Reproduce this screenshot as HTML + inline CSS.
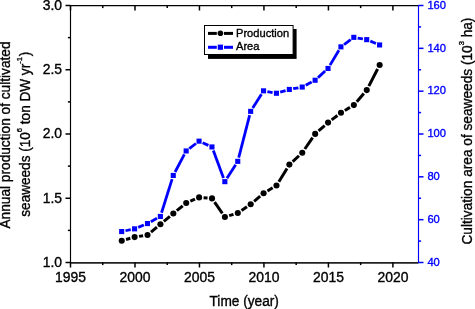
<!DOCTYPE html><html><head><meta charset="utf-8"><style>html,body{margin:0;padding:0;background:#fff;}svg{display:block;will-change:transform;}</style></head><body><svg width="475" height="309" viewBox="0 0 475 309">
<rect width="475" height="309" fill="#fff"/>
<g stroke="#000" stroke-width="1.15" fill="none">
<line x1="70.0" y1="5.6" x2="418.5" y2="5.6" stroke-width="1.35"/>
<line x1="70.0" y1="262.9" x2="418.5" y2="262.9" stroke-width="1.6" stroke="#222"/>
<line x1="70.5" y1="5.0" x2="70.5" y2="263.0"/>
<line x1="65.5" y1="262.50" x2="70.5" y2="262.50" stroke-width="1.5"/>
<line x1="67.9" y1="230.38" x2="70.5" y2="230.38" stroke-width="1.5"/>
<line x1="65.5" y1="198.25" x2="70.5" y2="198.25" stroke-width="1.5"/>
<line x1="67.9" y1="166.12" x2="70.5" y2="166.12" stroke-width="1.5"/>
<line x1="65.5" y1="134.00" x2="70.5" y2="134.00" stroke-width="1.5"/>
<line x1="67.9" y1="101.88" x2="70.5" y2="101.88" stroke-width="1.5"/>
<line x1="65.5" y1="69.75" x2="70.5" y2="69.75" stroke-width="1.5"/>
<line x1="67.9" y1="37.62" x2="70.5" y2="37.62" stroke-width="1.5"/>
<line x1="65.5" y1="5.50" x2="70.5" y2="5.50" stroke-width="1.5"/>
<line x1="70.50" y1="262.5" x2="70.50" y2="267.5" stroke-width="1.5"/>
<line x1="70.50" y1="5.5" x2="70.50" y2="10.5" stroke-width="1.5"/>
<line x1="102.74" y1="262.5" x2="102.74" y2="265.1" stroke-width="1.5"/>
<line x1="102.74" y1="5.5" x2="102.74" y2="8.1" stroke-width="1.5"/>
<line x1="134.98" y1="262.5" x2="134.98" y2="267.5" stroke-width="1.5"/>
<line x1="134.98" y1="5.5" x2="134.98" y2="10.5" stroke-width="1.5"/>
<line x1="167.22" y1="262.5" x2="167.22" y2="265.1" stroke-width="1.5"/>
<line x1="167.22" y1="5.5" x2="167.22" y2="8.1" stroke-width="1.5"/>
<line x1="199.46" y1="262.5" x2="199.46" y2="267.5" stroke-width="1.5"/>
<line x1="199.46" y1="5.5" x2="199.46" y2="10.5" stroke-width="1.5"/>
<line x1="231.70" y1="262.5" x2="231.70" y2="265.1" stroke-width="1.5"/>
<line x1="231.70" y1="5.5" x2="231.70" y2="8.1" stroke-width="1.5"/>
<line x1="263.94" y1="262.5" x2="263.94" y2="267.5" stroke-width="1.5"/>
<line x1="263.94" y1="5.5" x2="263.94" y2="10.5" stroke-width="1.5"/>
<line x1="296.18" y1="262.5" x2="296.18" y2="265.1" stroke-width="1.5"/>
<line x1="296.18" y1="5.5" x2="296.18" y2="8.1" stroke-width="1.5"/>
<line x1="328.42" y1="262.5" x2="328.42" y2="267.5" stroke-width="1.5"/>
<line x1="328.42" y1="5.5" x2="328.42" y2="10.5" stroke-width="1.5"/>
<line x1="360.66" y1="262.5" x2="360.66" y2="265.1" stroke-width="1.5"/>
<line x1="360.66" y1="5.5" x2="360.66" y2="8.1" stroke-width="1.5"/>
<line x1="392.90" y1="262.5" x2="392.90" y2="267.5" stroke-width="1.5"/>
<line x1="392.90" y1="5.5" x2="392.90" y2="10.5" stroke-width="1.5"/>
</g>
<g stroke="#00f" stroke-width="1.15" fill="none">
<line x1="418.5" y1="5.0" x2="418.5" y2="263.0"/>
<line x1="418.5" y1="262.50" x2="423.5" y2="262.50" stroke-width="1.5"/>
<line x1="418.5" y1="241.08" x2="421.1" y2="241.08" stroke-width="1.5"/>
<line x1="418.5" y1="219.67" x2="423.5" y2="219.67" stroke-width="1.5"/>
<line x1="418.5" y1="198.25" x2="421.1" y2="198.25" stroke-width="1.5"/>
<line x1="418.5" y1="176.83" x2="423.5" y2="176.83" stroke-width="1.5"/>
<line x1="418.5" y1="155.42" x2="421.1" y2="155.42" stroke-width="1.5"/>
<line x1="418.5" y1="134.00" x2="423.5" y2="134.00" stroke-width="1.5"/>
<line x1="418.5" y1="112.58" x2="421.1" y2="112.58" stroke-width="1.5"/>
<line x1="418.5" y1="91.17" x2="423.5" y2="91.17" stroke-width="1.5"/>
<line x1="418.5" y1="69.75" x2="421.1" y2="69.75" stroke-width="1.5"/>
<line x1="418.5" y1="48.33" x2="423.5" y2="48.33" stroke-width="1.5"/>
<line x1="418.5" y1="26.92" x2="421.1" y2="26.92" stroke-width="1.5"/>
<line x1="418.5" y1="5.50" x2="423.5" y2="5.50" stroke-width="1.5"/>
</g>
<text transform="translate(62.00,266.95) scale(0.985,1)" font-family="Liberation Sans, sans-serif" font-size="14.15" text-anchor="end" fill="#000" stroke="#000" stroke-width="0.35" word-spacing="0">1.0</text>
<text transform="translate(62.00,202.70) scale(0.985,1)" font-family="Liberation Sans, sans-serif" font-size="14.15" text-anchor="end" fill="#000" stroke="#000" stroke-width="0.35" word-spacing="0">1.5</text>
<text transform="translate(62.00,138.45) scale(0.985,1)" font-family="Liberation Sans, sans-serif" font-size="14.15" text-anchor="end" fill="#000" stroke="#000" stroke-width="0.35" word-spacing="0">2.0</text>
<text transform="translate(62.00,74.20) scale(0.985,1)" font-family="Liberation Sans, sans-serif" font-size="14.15" text-anchor="end" fill="#000" stroke="#000" stroke-width="0.35" word-spacing="0">2.5</text>
<text transform="translate(62.00,9.95) scale(0.985,1)" font-family="Liberation Sans, sans-serif" font-size="14.15" text-anchor="end" fill="#000" stroke="#000" stroke-width="0.35" word-spacing="0">3.0</text>
<text transform="translate(427.40,265.80) scale(0.965,1)" font-family="Liberation Sans, sans-serif" font-size="11.6" text-anchor="start" fill="#00f" stroke="#00f" stroke-width="0.35" word-spacing="0">40</text>
<text transform="translate(427.40,222.97) scale(0.965,1)" font-family="Liberation Sans, sans-serif" font-size="11.6" text-anchor="start" fill="#00f" stroke="#00f" stroke-width="0.35" word-spacing="0">60</text>
<text transform="translate(427.40,180.13) scale(0.965,1)" font-family="Liberation Sans, sans-serif" font-size="11.6" text-anchor="start" fill="#00f" stroke="#00f" stroke-width="0.35" word-spacing="0">80</text>
<text transform="translate(427.40,137.30) scale(0.965,1)" font-family="Liberation Sans, sans-serif" font-size="11.6" text-anchor="start" fill="#00f" stroke="#00f" stroke-width="0.35" word-spacing="0">100</text>
<text transform="translate(427.40,94.47) scale(0.965,1)" font-family="Liberation Sans, sans-serif" font-size="11.6" text-anchor="start" fill="#00f" stroke="#00f" stroke-width="0.35" word-spacing="0">120</text>
<text transform="translate(427.40,51.63) scale(0.965,1)" font-family="Liberation Sans, sans-serif" font-size="11.6" text-anchor="start" fill="#00f" stroke="#00f" stroke-width="0.35" word-spacing="0">140</text>
<text transform="translate(427.40,8.80) scale(0.965,1)" font-family="Liberation Sans, sans-serif" font-size="11.6" text-anchor="start" fill="#00f" stroke="#00f" stroke-width="0.35" word-spacing="0">160</text>
<text transform="translate(70.60,282.30) scale(0.985,1)" font-family="Liberation Sans, sans-serif" font-size="14.15" text-anchor="middle" fill="#000" stroke="#000" stroke-width="0.35" word-spacing="0">1995</text>
<text transform="translate(135.08,282.30) scale(0.985,1)" font-family="Liberation Sans, sans-serif" font-size="14.15" text-anchor="middle" fill="#000" stroke="#000" stroke-width="0.35" word-spacing="0">2000</text>
<text transform="translate(199.56,282.30) scale(0.985,1)" font-family="Liberation Sans, sans-serif" font-size="14.15" text-anchor="middle" fill="#000" stroke="#000" stroke-width="0.35" word-spacing="0">2005</text>
<text transform="translate(264.04,282.30) scale(0.985,1)" font-family="Liberation Sans, sans-serif" font-size="14.15" text-anchor="middle" fill="#000" stroke="#000" stroke-width="0.35" word-spacing="0">2010</text>
<text transform="translate(328.52,282.30) scale(0.985,1)" font-family="Liberation Sans, sans-serif" font-size="14.15" text-anchor="middle" fill="#000" stroke="#000" stroke-width="0.35" word-spacing="0">2015</text>
<text transform="translate(393.00,282.30) scale(0.985,1)" font-family="Liberation Sans, sans-serif" font-size="14.15" text-anchor="middle" fill="#000" stroke="#000" stroke-width="0.35" word-spacing="0">2020</text>
<text transform="translate(244.20,305.60) scale(0.968,1)" font-family="Liberation Sans, sans-serif" font-size="14.15" text-anchor="middle" fill="#000" stroke="#000" stroke-width="0.35" word-spacing="0">Time (year)</text>
<text transform="translate(10.30,135.00) rotate(-90) scale(0.968,1)" font-family="Liberation Sans, sans-serif" font-size="14.15" text-anchor="middle" fill="#000" stroke="#000" stroke-width="0.35" word-spacing="0">Annual production of cultivated</text>
<text transform="translate(29.50,216.70) rotate(-90) scale(0.961,1)" font-family="Liberation Sans, sans-serif" font-size="14.15" text-anchor="start" fill="#000" stroke="#000" stroke-width="0.35" word-spacing="0">seaweeds (10<tspan font-size="7.8" dy="-7.9">6</tspan><tspan dy="7.9"> ton DW yr</tspan><tspan font-size="7.8" dy="-7.9">-1</tspan><tspan dy="7.9" dx="1.0">)</tspan></text>
<text transform="translate(471.80,131.05) rotate(-90) scale(0.968,1)" font-family="Liberation Sans, sans-serif" font-size="14.15" text-anchor="middle" fill="#000" stroke="#000" stroke-width="0.35" word-spacing="0">Cultivation area of seaweeds (10<tspan font-size="7.8" dy="-7.9">3</tspan><tspan dy="7.9"> ha)</tspan></text>
<g stroke="#000" stroke-width="3.0" stroke-linecap="butt"><line x1="126.07" y1="239.49" x2="130.30" y2="238.31"/><line x1="139.07" y1="236.38" x2="143.08" y2="235.72"/><line x1="150.99" y1="232.13" x2="156.96" y2="227.17"/><line x1="163.87" y1="221.41" x2="169.87" y2="216.39"/><line x1="176.81" y1="210.66" x2="182.72" y2="205.84"/><line x1="190.34" y1="201.21" x2="194.98" y2="199.19"/><line x1="203.60" y1="197.75" x2="207.52" y2="198.05"/><line x1="214.57" y1="202.10" x2="222.34" y2="213.30"/><line x1="229.20" y1="215.67" x2="233.50" y2="214.33"/><line x1="241.53" y1="210.48" x2="246.96" y2="206.82"/><line x1="254.12" y1="201.38" x2="260.17" y2="196.22"/><line x1="267.44" y1="190.97" x2="272.64" y2="187.83"/><line x1="278.85" y1="181.67" x2="287.02" y2="168.43"/><line x1="292.69" y1="161.55" x2="298.97" y2="155.75"/><line x1="304.82" y1="148.99" x2="312.63" y2="137.61"/><line x1="318.56" y1="130.93" x2="324.69" y2="125.57"/><line x1="331.64" y1="119.86" x2="337.40" y2="115.44"/><line x1="344.84" y1="110.42" x2="349.99" y2="107.38"/><line x1="356.80" y1="101.69" x2="363.82" y2="93.51"/><line x1="368.81" y1="86.10" x2="377.60" y2="69.00"/></g>
<g stroke="#00f" stroke-width="2.8" stroke-linecap="butt"><line x1="125.50" y1="230.75" x2="130.76" y2="229.65"/><line x1="138.19" y1="227.37" x2="143.87" y2="225.03"/><line x1="150.89" y1="221.67" x2="156.96" y2="218.33"/><line x1="161.54" y1="212.73" x2="172.10" y2="179.17"/><line x1="175.08" y1="172.00" x2="184.35" y2="154.40"/><line x1="189.27" y1="148.59" x2="195.95" y2="143.51"/><line x1="202.62" y1="142.75" x2="208.40" y2="145.35"/><line x1="213.31" y1="150.61" x2="223.49" y2="177.99"/><line x1="226.94" y1="178.36" x2="235.66" y2="164.64"/><line x1="238.72" y1="157.57" x2="249.67" y2="115.13"/><line x1="252.72" y1="108.05" x2="261.46" y2="94.15"/><line x1="267.37" y1="91.56" x2="272.60" y2="92.54"/><line x1="280.18" y1="92.15" x2="285.59" y2="90.55"/><line x1="293.17" y1="88.74" x2="298.39" y2="87.76"/><line x1="305.68" y1="85.23" x2="311.67" y2="82.07"/><line x1="318.00" y1="77.62" x2="325.14" y2="71.08"/><line x1="330.02" y1="65.10" x2="338.92" y2="50.20"/><line x1="344.06" y1="44.54" x2="350.67" y2="39.66"/><line x1="357.65" y1="38.03" x2="362.87" y2="38.97"/><line x1="370.32" y1="41.13" x2="376.00" y2="43.47"/></g>
<g fill="#000"><circle cx="121.73" cy="240.70" r="3.05"/><circle cx="134.63" cy="237.10" r="3.05"/><circle cx="147.53" cy="235.00" r="3.05"/><circle cx="160.42" cy="224.30" r="3.05"/><circle cx="173.32" cy="213.50" r="3.05"/><circle cx="186.21" cy="203.00" r="3.05"/><circle cx="199.11" cy="197.40" r="3.05"/><circle cx="212.01" cy="198.40" r="3.05"/><circle cx="224.90" cy="217.00" r="3.05"/><circle cx="237.80" cy="213.00" r="3.05"/><circle cx="250.69" cy="204.30" r="3.05"/><circle cx="263.59" cy="193.30" r="3.05"/><circle cx="276.49" cy="185.50" r="3.05"/><circle cx="289.38" cy="164.60" r="3.05"/><circle cx="302.28" cy="152.70" r="3.05"/><circle cx="315.17" cy="133.90" r="3.05"/><circle cx="328.07" cy="122.60" r="3.05"/><circle cx="340.97" cy="112.70" r="3.05"/><circle cx="353.86" cy="105.10" r="3.05"/><circle cx="366.76" cy="90.10" r="3.05"/><circle cx="379.65" cy="65.00" r="3.05"/></g>
<g fill="#00f"><rect x="119.13" y="229.00" width="5.1" height="5.1"/><rect x="132.03" y="226.30" width="5.1" height="5.1"/><rect x="144.93" y="221.00" width="5.1" height="5.1"/><rect x="157.82" y="213.90" width="5.1" height="5.1"/><rect x="170.72" y="172.90" width="5.1" height="5.1"/><rect x="183.61" y="148.40" width="5.1" height="5.1"/><rect x="196.51" y="138.60" width="5.1" height="5.1"/><rect x="209.41" y="144.40" width="5.1" height="5.1"/><rect x="222.30" y="179.10" width="5.1" height="5.1"/><rect x="235.20" y="158.80" width="5.1" height="5.1"/><rect x="248.09" y="108.80" width="5.1" height="5.1"/><rect x="260.99" y="88.30" width="5.1" height="5.1"/><rect x="273.89" y="90.70" width="5.1" height="5.1"/><rect x="286.78" y="86.90" width="5.1" height="5.1"/><rect x="299.68" y="84.50" width="5.1" height="5.1"/><rect x="312.57" y="77.70" width="5.1" height="5.1"/><rect x="325.47" y="65.90" width="5.1" height="5.1"/><rect x="338.37" y="44.30" width="5.1" height="5.1"/><rect x="351.26" y="34.80" width="5.1" height="5.1"/><rect x="364.16" y="37.10" width="5.1" height="5.1"/><rect x="377.05" y="42.40" width="5.1" height="5.1"/></g>
<rect x="208" y="29" width="88.6" height="29.9" fill="#000"/>
<rect x="204.5" y="25.5" width="88.6" height="29" fill="#fff" stroke="#000" stroke-width="1"/>
<g stroke-width="3"><line x1="208" y1="33.4" x2="216.8" y2="33.4" stroke="#000"/><line x1="224" y1="33.4" x2="233" y2="33.4" stroke="#000"/>
<line x1="208" y1="47.3" x2="216.8" y2="47.3" stroke="#00f"/><line x1="224" y1="47.3" x2="233" y2="47.3" stroke="#00f"/></g>
<circle cx="220.4" cy="33.3" r="2.8" fill="#000"/>
<rect x="217.8" y="44.6" width="5.2" height="5.2" fill="#00f"/>
<text transform="translate(236.00,37.00) scale(0.98,1)" font-family="Liberation Sans, sans-serif" font-size="11.35" text-anchor="start" fill="#000" stroke="#000" stroke-width="0.35" word-spacing="0">Production</text>
<text transform="translate(236.00,50.30) scale(0.98,1)" font-family="Liberation Sans, sans-serif" font-size="11.35" text-anchor="start" fill="#000" stroke="#000" stroke-width="0.35" word-spacing="0">Area</text>
</svg></body></html>
